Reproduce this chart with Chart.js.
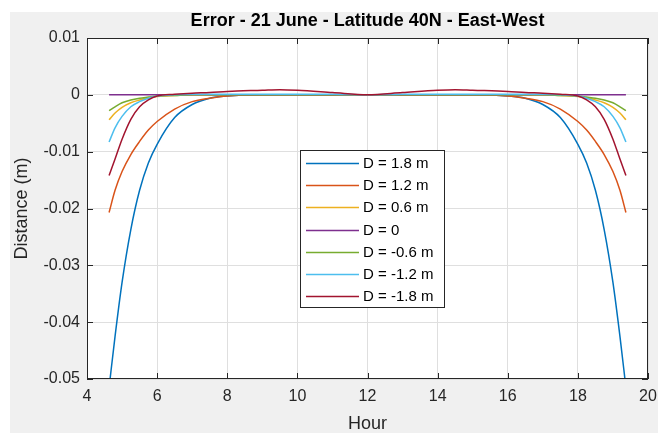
<!DOCTYPE html>
<html>
<head>
<meta charset="utf-8">
<script src="https://cdn.jsdelivr.net/npm/chart.js@4.4.1/dist/chart.umd.min.js"></script>
<style>
    html, body { margin: 0; padding: 0; background: #ffffff; }
    #grafica { display: block; }
</style>
</head>
<body>
<canvas id="grafica" width="671" height="433"></canvas>
<script>
// DATOS
const horas = [4.63, 4.8, 5, 5.25, 5.5, 5.75, 6, 6.5, 7, 7.5, 8, 9, 9.5, 10, 11, 12,
    13, 14, 14.5, 15, 16, 16.5, 17, 17.5, 18, 18.25, 18.5, 18.75, 19, 19.2, 19.37];

const d_p18 = [-0.0515, -0.0425, -0.033, -0.0237, -0.0168, -0.012, -0.0087, -0.004, -0.0017, -0.0006, -0.0002,
    0, 0, 0, 0, 0, 0, 0, 0, 0,
    -0.0002, -0.0006, -0.0017, -0.004, -0.0087, -0.012, -0.0168, -0.0237, -0.033, -0.0425, -0.0515];
const d_p12 = [-0.0207, -0.0168, -0.0135, -0.0105, -0.0082, -0.0062, -0.0047, -0.0025, -0.0012, -0.0006, -0.0002,
    0, 0, 0, 0, 0, 0, 0, 0, 0,
    -0.0002, -0.0006, -0.0012, -0.0025, -0.0047, -0.0062, -0.0082, -0.0105, -0.0135, -0.0168, -0.0207];
const d_p06 = [-0.0044, -0.0032, -0.0022, -0.0014, -0.0009, -0.0005, -0.0003, -0.0001, 0, 0, 0,
    0, 0, 0, 0, 0, 0, 0, 0, 0,
    0, 0, 0, -0.0001, -0.0003, -0.0005, -0.0009, -0.0014, -0.0022, -0.0032, -0.0044];
const d_0 = [0, 0, 0, 0, 0, 0, 0, 0, 0, 0, 0,
    0, 0, 0, 0, 0, 0, 0, 0, 0,
    0, 0, 0, 0, 0, 0, 0, 0, 0, 0, 0];
const d_m06 = [-0.0028, -0.0021, -0.0014, -0.0009, -0.0006, -0.0004, -0.0002, -0.0001, 0, 0, 0,
    0, 0, 0, 0, 0, 0, 0, 0, 0,
    0, 0, 0, -0.0001, -0.0002, -0.0004, -0.0006, -0.0009, -0.0014, -0.0021, -0.0028];
const d_m12 = [-0.0083, -0.0058, -0.0038, -0.0021, -0.0012, -0.0006, -0.0002, 0, 0.0001, 0.0001, 0.0001,
    0.0001, 0.0001, 0.0001, 0.0001, 0, 0.0001, 0.0001, 0.0001, 0.0001,
    0.0001, 0.0001, 0.0001, 0, -0.0002, -0.0006, -0.0012, -0.0021, -0.0038, -0.0058, -0.0083];
const d_m18 = [-0.0142, -0.0113, -0.0078, -0.0043, -0.0021, -0.0009, -0.0002, 0.0001, 0.0003, 0.0004, 0.0006,
    0.0008, 0.0009, 0.0008, 0.0004, 0, 0.0004, 0.0008, 0.0009, 0.0008,
    0.0006, 0.0004, 0.0003, 0.0001, -0.0002, -0.0009, -0.0021, -0.0043, -0.0078, -0.0113, -0.0142];

const etiquetas = ['D = 1.8 m', 'D = 1.2 m', 'D = 0.6 m', 'D = 0', 'D = -0.6 m', 'D = -1.2 m', 'D = -1.8 m'];
const series = [d_p18, d_p12, d_p06, d_0, d_m06, d_m12, d_m18];
const colores = ['#0072BD', '#D95319', '#EDB120', '#7E2F8E', '#77AC30', '#4DBEEE', '#A2142F'];

const x_ticks = [4, 6, 8, 10, 12, 14, 16, 18, 20];
const y_ticks = [-0.05, -0.04, -0.03, -0.02, -0.01, 0, 0.01];

const FUENTE = '"Liberation Sans", Arial, Helvetica, sans-serif';
const EJE = '#262626';

// Fondo gris de la figura y fondo blanco del area de ejes
const fondo_plugin = {
    id: 'fondo',
    beforeDraw(chart) {
        const { ctx, chartArea: a } = chart;
        ctx.save();
        ctx.fillStyle = '#ffffff';
        ctx.fillRect(0, 0, chart.width, chart.height);
        ctx.fillStyle = '#f0f0f0';
        ctx.fillRect(10, 12, 648, 421);
        ctx.fillStyle = '#ffffff';
        ctx.fillRect(a.left, a.top, a.right - a.left, a.bottom - a.top);
        ctx.restore();
    }
};

// Caja de los ejes, marcas hacia dentro y leyenda
const caja_plugin = {
    id: 'caja',
    afterDraw(chart) {
        const { ctx, chartArea: a, scales } = chart;
        ctx.save();
        ctx.strokeStyle = EJE;
        ctx.lineWidth = 1;
        ctx.strokeRect(a.left + 0.5, a.top + 0.5, a.right - a.left - 1, a.bottom - a.top - 1);
        ctx.beginPath();
        x_ticks.forEach(v => {
            const px = Math.round(scales.x.getPixelForValue(v)) + 0.5;
            ctx.moveTo(px, a.bottom); ctx.lineTo(px, a.bottom - 6);
            ctx.moveTo(px, a.top); ctx.lineTo(px, a.top + 6);
        });
        y_ticks.forEach(v => {
            const py = Math.round(scales.y.getPixelForValue(v)) + 0.5;
            ctx.moveTo(a.left, py); ctx.lineTo(a.left + 6, py);
            ctx.moveTo(a.right, py); ctx.lineTo(a.right - 6, py);
        });
        ctx.stroke();

        // LEYENDA
        const x0 = a.left + 213, y0 = a.top + 112;
        const w = 144, h = 157;
        ctx.fillStyle = '#ffffff';
        ctx.fillRect(x0, y0, w, h);
        ctx.strokeStyle = EJE;
        ctx.strokeRect(x0 + 0.5, y0 + 0.5, w, h);
        ctx.font = '15px ' + FUENTE;
        ctx.textBaseline = 'middle';
        chart.data.datasets.forEach((ds, i) => {
            const y = Math.round(y0 + 13 + i * 22.2) + 0.5;
            ctx.strokeStyle = ds.borderColor;
            ctx.lineWidth = 1.5;
            ctx.beginPath();
            ctx.moveTo(x0 + 6, y);
            ctx.lineTo(x0 + 59, y);
            ctx.stroke();
            ctx.fillStyle = '#000000';
            ctx.fillText(ds.label, x0 + 63, y);
        });
        ctx.restore();
    }
};

const ctx = document.getElementById('grafica').getContext('2d');
new Chart(ctx, {
    type: 'line',
    data: {
        labels: horas,
        datasets: series.map((s, i) => ({
            label: etiquetas[i],
            data: horas.map((h, j) => ({ x: h, y: s[j] })),
            borderColor: colores[i],
            backgroundColor: colores[i],
            borderWidth: 1.5,
            pointRadius: 0,
            fill: false,
            cubicInterpolationMode: 'monotone',
            order: series.length - i // la ultima serie encima, como en MATLAB
        }))
    },
    options: {
        responsive: false,
        animation: false,
        devicePixelRatio: 1,
        layout: { padding: { top: 0, right: 23, bottom: 0, left: 0 } },
        plugins: {
            legend: { display: false },
            tooltip: { enabled: false },
            title: {
                display: true,
                text: 'Error - 21 June - Latitude 40N - East-West',
                color: '#000000',
                fullSize: false,
                font: { family: FUENTE, size: 18, weight: 'bold' },
                padding: { top: 10, bottom: 6.4 }
            }
        },
        scales: {
            x: {
                type: 'linear',
                min: 4,
                max: 20,
                afterBuildTicks: s => { s.ticks = x_ticks.map(v => ({ value: v })); },
                ticks: { color: EJE, font: { family: FUENTE, size: 16 }, padding: 8, maxRotation: 0 },
                grid: { color: '#dfdfdf', drawTicks: false },
                border: { display: false },
                title: {
                    display: true,
                    text: 'Hour',
                    color: EJE,
                    font: { family: FUENTE, size: 18 },
                    padding: { top: 0, bottom: -2 }
                },
                afterFit: s => { s.height = 54; }
            },
            y: {
                min: -0.05,
                max: 0.01,
                afterBuildTicks: s => { s.ticks = y_ticks.map(v => ({ value: v })); },
                ticks: {
                    color: EJE,
                    font: { family: FUENTE, size: 16 },
                    padding: 7,
                    callback: v => String(Math.round(v * 100) / 100)
                },
                grid: { color: '#dfdfdf', drawTicks: false },
                border: { display: false },
                title: {
                    display: true,
                    text: 'Distance (m)',
                    color: EJE,
                    font: { family: FUENTE, size: 18 },
                    padding: { top: 11, bottom: 0 }
                },
                afterFit: s => { s.width = 87; }
            }
        }
    },
    plugins: [fondo_plugin, caja_plugin]
});
</script>
</body>
</html>
